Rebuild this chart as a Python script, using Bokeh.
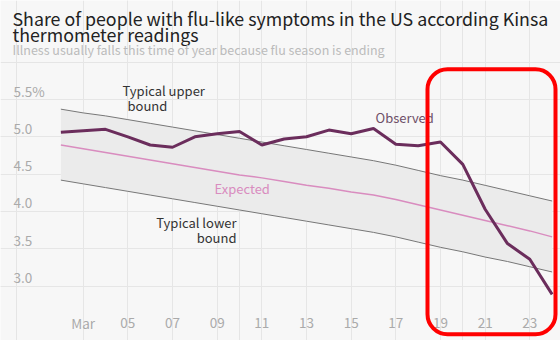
from bokeh.plotting import figure
from bokeh.models import FixedTicker, Label, BoxAnnotation, ColumnDataSource, Range1d, Grid
from bokeh.core.properties import value
from bokeh.embed import file_html
from bokeh.resources import INLINE

# ---- data (March 2020, day of month) ----
days = list(range(2, 25))
observed = [5.06, 5.08, 5.10, 5.00, 4.89, 4.86, 5.00, 5.04, 5.07, 4.89, 4.97, 5.00,
            5.09, 5.04, 5.11, 4.90, 4.88, 4.93, 4.63, 4.03, 3.57, 3.36, 2.89]
expected = [4.89, 4.84, 4.79, 4.74, 4.69, 4.64, 4.59, 4.54, 4.49, 4.45, 4.40, 4.35,
            4.31, 4.26, 4.22, 4.16, 4.09, 4.02, 3.95, 3.88, 3.81, 3.74, 3.66]
upper = [5.37, 5.32, 5.28, 5.23, 5.18, 5.13, 5.08, 5.03, 4.98, 4.93, 4.88, 4.83,
         4.78, 4.73, 4.68, 4.62, 4.55, 4.48, 4.42, 4.35, 4.28, 4.21, 4.14]
lower = [4.42, 4.37, 4.32, 4.27, 4.22, 4.17, 4.12, 4.07, 4.02, 3.97, 3.92, 3.87,
         3.82, 3.77, 3.72, 3.66, 3.59, 3.52, 3.46, 3.39, 3.33, 3.26, 3.19]
x_ticks = [3, 5, 7, 9, 11, 13, 15, 17, 19, 21, 23]
x_tick_labels = ["Mar", "05", "07", "09", "11", "13", "15", "17", "19", "21", "23"]
y_ticks = [3.0, 3.5, 4.0, 4.5, 5.0, 5.5]
y_tick_labels = ["3.0", "3.5", "4.0", "4.5", "5.0", "5.5%"]

TITLE_1 = "Share of people with flu-like symptoms in the US according Kinsa"
TITLE_2 = "thermometer readings"
SUBTITLE = "Illness usually falls this time of year because flu season is ending"

FONT = "Noto Sans CJK JP"
BG = "#f7f7f7"
W, H = 560, 340

# pixel <-> data helpers (layout only)
PX_PER_DAY = 22.33
PX_DAY3 = 82.7
PX_PER_UNIT = 74.68
PX_Y5 = 136.3

def dx(px):
    return 3 + (px - PX_DAY3) / PX_PER_DAY

def dy(py):
    return 5.0 + (PX_Y5 - py) / PX_PER_UNIT

p = figure(width=W, height=H, output_backend="svg", toolbar_location=None,
           title=None, x_axis_location=None, y_axis_location=None,
           x_range=Range1d(dx(0), dx(W)), y_range=Range1d(dy(H), dy(0)),
           min_border=0)
p.background_fill_color = BG
p.border_fill_color = BG
p.outline_line_color = None

# grids limited to the plotting area
p.add_layout(Grid(dimension=0, ticker=FixedTicker(ticks=x_ticks),
                  bounds=(dy(307), dy(75)), grid_line_color="#e6e6e6"))
p.add_layout(Grid(dimension=1, ticker=FixedTicker(ticks=y_ticks),
                  bounds=(dx(12), dx(557)), grid_line_color="#e6e6e6"))

src = ColumnDataSource(dict(day=days, observed=observed, expected=expected,
                            upper=upper, lower=lower))

p.varea(x="day", y1="lower", y2="upper", source=src, fill_color="#ebebeb")
p.line("day", "upper", source=src, line_color="#777777", line_width=1)
p.line("day", "lower", source=src, line_color="#777777", line_width=1)
p.line("day", "expected", source=src, line_color="#d98cbf", line_width=1.5)
p.line("day", "observed", source=src, line_color="#6b2d5c", line_width=3)

# y tick labels inside the plot, above gridlines
p.text(x=[dx(13)] * len(y_ticks), y=y_ticks, text=y_tick_labels, y_offset=-8,
       text_baseline="alphabetic", text_align="left", text_color="#aaaaaa",
       text_font=value(FONT), text_font_size="13.5px")
# x tick labels below the plotting area
p.text(x=x_ticks, y=[dy(322)] * len(x_ticks), text=x_tick_labels,
       text_baseline="alphabetic", text_align="center", text_color="#aaaaaa",
       text_font=value(FONT), text_font_size="13.5px")

def lab(txt, x, ycanvas, color, size, align="left"):
    p.add_layout(Label(x=x, y=H - ycanvas, x_units="screen", y_units="screen",
                       text=txt, text_color=color, text_font=FONT, text_font_size=size,
                       text_align=align, text_baseline="alphabetic"))

lab(TITLE_1, 12, 17.5, "#222222", "17.8px")
lab(TITLE_2, 12, 33.5, "#222222", "17.8px")
lab(SUBTITLE, 12, 48.5, "#bbbbbb", "12.5px")

lab("Typical upper", 122, 90, "#333333", "13px")
lab("bound", 127, 105, "#333333", "13px")
lab("Typical lower", 236, 222, "#333333", "13px", "right")
lab("bound", 236, 237, "#333333", "13px", "right")
lab("Expected", 214, 188, "#d98cbf", "13px")
lab("Observed", 375, 117, "#6e4f68", "13px")

# highlight box
p.add_layout(BoxAnnotation(left=427, right=555, top=H - 68.7, bottom=H - 333.7,
                           left_units="screen", right_units="screen",
                           top_units="screen", bottom_units="screen",
                           fill_alpha=0, line_color="#ff0000", line_alpha=1,
                           line_width=4, border_radius=20))

open("out.html", "w").write(file_html(p, INLINE))
